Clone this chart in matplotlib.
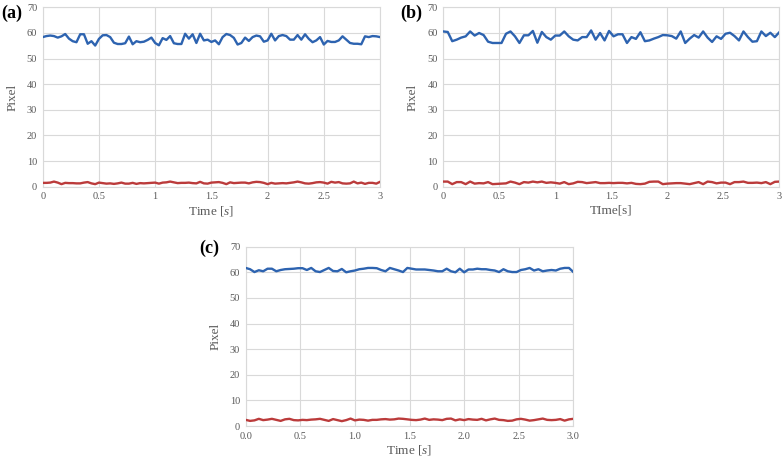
import numpy as np
import matplotlib
matplotlib.use("Agg")
import matplotlib.pyplot as plt

# frame rates read from vertex spacing: (a) 30 fps, (b)/(c) 25 fps
fps_a = 30
fps_bc = 25

blue_a = [58.4, 58.8, 59.0, 58.8, 58.2, 58.7, 59.6, 57.8, 56.8, 56.4,
          59.5, 59.5, 55.8, 56.8, 55.1, 57.7, 59.1, 59.2, 58.4, 56.2,
          55.7, 55.7, 56.0, 58.6, 55.6, 56.8, 56.4, 56.6, 57.3, 58.2,
          56.1, 55.2, 58.0, 57.3, 58.8, 56.0, 55.7, 55.7, 59.7, 57.8,
          59.5, 56.1, 59.7, 57.1, 57.4, 56.5, 57.1, 55.6, 58.4, 59.6,
          59.2, 58.1, 55.5, 56.1, 58.2, 56.9, 58.4, 59.0, 58.7, 56.6,
          57.1, 59.7, 57.1, 58.8, 59.2, 58.8, 57.4, 57.4, 59.2, 57.4,
          59.5, 57.7, 56.4, 57.1, 58.4, 55.5, 56.9, 56.5, 56.5, 57.1,
          58.7, 57.4, 56.1, 55.8, 55.8, 55.6, 58.7, 58.4, 58.8, 58.7,
          58.4]
red_a = [1.5, 1.5, 1.6, 2.0, 1.6, 1.0, 1.5, 1.4, 1.4, 1.3,
         1.3, 1.6, 1.8, 1.3, 1.0, 1.6, 1.4, 1.2, 1.3, 1.1,
         1.3, 1.6, 1.2, 1.2, 1.5, 1.1, 1.4, 1.3, 1.4, 1.5,
         1.6, 1.2, 1.6, 1.7, 2.0, 1.7, 1.4, 1.5, 1.5, 1.6,
         1.4, 1.3, 1.9, 1.3, 1.2, 1.6, 1.7, 1.8, 1.5, 1.0,
         1.7, 1.4, 1.5, 1.6, 1.6, 1.3, 1.7, 1.9, 1.8, 1.5,
         1.0, 1.5, 1.2, 1.3, 1.4, 1.3, 1.5, 1.7, 2.0, 1.7,
         1.3, 1.2, 1.4, 1.7, 1.8, 1.6, 1.2, 1.9, 1.6, 1.8,
         1.3, 1.2, 1.3, 2.0, 1.3, 1.6, 1.1, 1.5, 1.5, 1.2,
         1.9]

blue_b = [60.6, 60.4, 56.8, 57.4, 58.2, 58.7, 60.6, 59.0, 60.0, 59.2,
          56.6, 56.1, 56.1, 56.1, 59.7, 60.6, 58.7, 56.1, 59.1, 59.1,
          60.8, 56.2, 60.4, 58.4, 57.4, 59.0, 59.0, 60.6, 58.7, 57.4,
          57.1, 58.4, 58.4, 61.0, 57.4, 60.0, 57.1, 60.8, 58.7, 59.5,
          59.5, 56.1, 58.4, 57.7, 60.3, 56.8, 57.1, 57.8, 58.4, 59.2,
          59.1, 58.8, 57.8, 60.6, 56.1, 57.8, 59.2, 58.2, 60.6, 58.2,
          56.5, 58.7, 57.7, 59.7, 60.1, 58.8, 57.1, 60.6, 58.4, 56.6,
          56.8, 60.6, 58.8, 60.1, 58.4, 60.3]
red_b = [2.0, 2.0, 1.0, 1.8, 1.8, 1.0, 2.0, 1.2, 1.4, 1.3,
         1.8, 1.0, 1.1, 1.2, 1.3, 2.0, 1.6, 1.0, 1.8, 1.6,
         2.0, 1.7, 2.0, 1.5, 1.7, 1.5, 1.2, 1.8, 1.0, 1.3,
         1.9, 1.8, 1.4, 1.6, 1.8, 1.4, 1.4, 1.5, 1.4, 1.5,
         1.5, 1.3, 1.5, 1.1, 1.0, 1.2, 1.9, 2.0, 2.0, 1.0,
         1.2, 1.3, 1.4, 1.4, 1.2, 1.0, 1.4, 1.8, 1.0, 2.0,
         1.8, 1.3, 1.6, 1.6, 1.0, 1.8, 1.8, 2.0, 1.5, 1.5,
         1.6, 1.4, 1.8, 1.0, 1.9, 2.0]

blue_c = [61.7, 61.2, 60.1, 60.8, 60.4, 61.4, 61.4, 60.4, 60.9, 61.2,
          61.3, 61.4, 61.6, 61.6, 60.9, 61.7, 60.4, 60.1, 60.9, 61.7,
          60.5, 60.4, 61.3, 60.0, 60.4, 60.7, 61.2, 61.4, 61.7, 61.7,
          61.6, 60.9, 60.4, 61.7, 61.2, 60.7, 60.1, 61.7, 61.4, 61.1,
          61.1, 61.1, 60.9, 60.7, 60.4, 60.4, 61.4, 60.4, 60.0, 61.4,
          60.0, 61.1, 61.1, 61.4, 61.2, 61.2, 60.9, 60.7, 60.1, 61.2,
          60.4, 60.1, 60.1, 60.9, 61.2, 61.7, 60.7, 61.2, 60.4, 60.7,
          60.9, 60.7, 61.4, 61.7, 61.7, 60.1]
red_c = [2.4, 2.0, 2.2, 2.8, 2.3, 2.5, 2.8, 2.4, 2.0, 2.6,
         2.8, 2.3, 2.2, 2.4, 2.3, 2.5, 2.6, 2.8, 2.4, 2.0,
         2.7, 2.3, 1.9, 2.3, 2.9, 2.2, 2.5, 2.4, 2.1, 2.4,
         2.4, 2.6, 2.7, 2.5, 2.6, 2.9, 2.8, 2.6, 2.4, 2.3,
         2.5, 2.9, 2.4, 2.6, 2.5, 2.3, 2.8, 2.9, 2.2, 2.6,
         2.3, 2.7, 2.5, 2.4, 2.8, 2.2, 2.6, 2.9, 2.4, 2.3,
         2.0, 2.1, 2.6, 2.8, 2.5, 2.1, 2.3, 2.6, 2.9, 2.4,
         2.3, 2.4, 2.7, 2.1, 2.6, 2.8]

xticks = [0, 0.5, 1, 1.5, 2, 2.5, 3]
xlabels_ab = ['0', '0.5', '1', '1.5', '2', '2.5', '3']
xlabels_c = ['0.0', '0.5', '1.0', '1.5', '2.0', '2.5', '3.0']
yticks = [0, 10, 20, 30, 40, 50, 60, 70]

BLUE = '#2d63b0'
RED = '#bb3b3b'
GRID = '#d9d9d9'
TICKCOL = '#595959'

plt.rcParams['font.family'] = ['Liberation Serif', 'DejaVu Serif']
plt.rcParams['mathtext.fontset'] = 'custom'
plt.rcParams['mathtext.rm'] = 'Liberation Serif'
plt.rcParams['mathtext.it'] = 'Liberation Serif:italic'

fig = plt.figure(figsize=(7.84, 4.61), dpi=100)


def panel(rect, blue, red, fps, xlabs, xlabel, letter, letter_xy):
    ax = fig.add_axes(rect)
    t = np.arange(len(blue)) / fps
    ax.plot(t, blue, color=BLUE, lw=1.7, solid_joinstyle='round', zorder=3)
    ax.plot(t, red, color=RED, lw=1.7, solid_joinstyle='round', zorder=3)
    ax.set_xlim(0, 3)
    ax.set_ylim(0, 70)
    ax.set_xticks(xticks)
    ax.set_xticklabels(xlabs)
    ax.set_yticks(yticks)
    ax.grid(True, color=GRID, lw=0.8)
    ax.set_axisbelow(True)
    for s in ax.spines.values():
        s.set_color(GRID)
        s.set_linewidth(0.8)
    ax.tick_params(length=0, labelsize=7.5, colors=TICKCOL, pad=4)
    ax.set_ylabel('Pixel', fontsize=9.5, color=TICKCOL, labelpad=6)
    ax.set_xlabel(xlabel, fontsize=9.5, color=TICKCOL, labelpad=2)
    fig.text(letter_xy[0], letter_xy[1], letter, fontsize=13,
             fontweight='bold', ha='left', va='center')
    return ax


panel([0.0545, 0.595, 0.4302, 0.389], blue_a, red_a, fps_a, xlabels_ab,
      'Time [$\\it{s}$]', '(a)', (0.001, 0.972))
panel([0.5654, 0.595, 0.4286, 0.389], blue_b, red_b, fps_bc, xlabels_ab,
      'TIme[s]', '(b)', (0.511, 0.972))
panel([0.3134, 0.0759, 0.4179, 0.389], blue_c, red_c, fps_bc, xlabels_c,
      'Time [$\\it{s}$]', '(c)', (0.254, 0.462))

fig.savefig('out.png', dpi=100)
